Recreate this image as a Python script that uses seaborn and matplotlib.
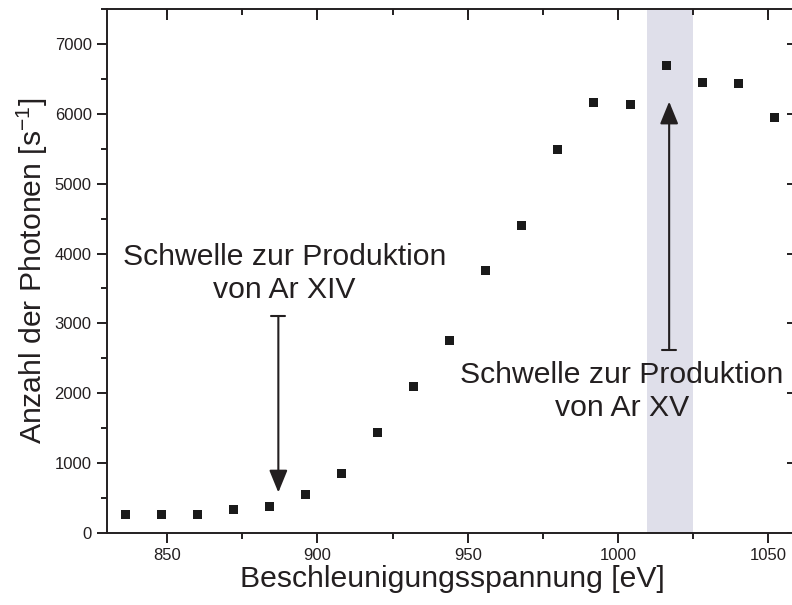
import matplotlib
matplotlib.use('Agg')
import matplotlib.pyplot as plt
from matplotlib.ticker import MultipleLocator
import seaborn as sns
import pandas as pd

# measured photon counts vs. acceleration voltage
voltage = [836, 848, 860, 872, 884, 896, 908, 920, 932, 944,
           956, 968, 980, 992, 1004, 1016, 1028, 1040, 1052]
counts = [258, 262, 268, 330, 375, 545, 850, 1440, 2100, 2750,
          3760, 4400, 5490, 6155, 6140, 6690, 6450, 6440, 5950]

# highlighted region and thresholds
band = (1009.5, 1025.0)
thr_xiv = {'x': 887, 'y_from': 3100, 'y_to': 580}
thr_xv = {'x': 1017, 'y_from': 2620, 'y_to': 6175}

ink = '#231f20'

sns.set_style('ticks')
plt.rcParams['font.family'] = ['Liberation Sans', 'DejaVu Sans']

df = pd.DataFrame({'voltage': voltage, 'counts': counts})

fig = plt.figure(figsize=(7.92, 6.05), dpi=100)
ax = fig.add_axes([0.1351, 0.119, 0.873, 0.8661])

ax.axvspan(band[0], band[1], color='#dfdfea', lw=0, zorder=0)

sns.scatterplot(data=df, x='voltage', y='counts', marker='s', s=42,
                color='#1a1a1a', edgecolor='none', ax=ax, zorder=3)

# threshold arrows with flat cap at the tail
for thr in (thr_xiv, thr_xv):
    ax.annotate('', xy=(thr['x'], thr['y_to']), xytext=(thr['x'], thr['y_from']),
                arrowprops=dict(arrowstyle='-|>,head_length=1.37,head_width=0.56',
                                mutation_scale=10, color=ink, lw=1.5,
                                shrinkA=0, shrinkB=0), zorder=4)
    ax.plot([thr['x'] - 2.3, thr['x'] + 2.3], [thr['y_from']] * 2,
            color=ink, lw=1.5, zorder=4)

ax.text(889, 3715, 'Schwelle zur Produktion\nvon Ar XIV', ha='center',
        va='center', fontsize=21.7, color=ink, linespacing=1.19)
ax.text(1001.3, 2025, 'Schwelle zur Produktion\nvon Ar XV', ha='center',
        va='center', fontsize=21.7, color=ink, linespacing=1.19)

xlim = (830, 1060)
ylim = (0, 7500)
ax.set_xlim(xlim)
ax.set_ylim(ylim)
ax.xaxis.set_major_locator(MultipleLocator(50))
ax.xaxis.set_minor_locator(MultipleLocator(25))
ax.yaxis.set_major_locator(MultipleLocator(1000))
ax.yaxis.set_minor_locator(MultipleLocator(500))

ax.set_xlabel('Beschleunigungsspannung [eV]', fontsize=21.7, color=ink, labelpad=1)
ax.set_ylabel('Anzahl der Photonen [s$^{\\mathregular{-1}}$]', fontsize=21.7,
              color=ink, labelpad=3)

for side in ['top', 'right', 'left', 'bottom']:
    ax.spines[side].set_visible(True)
    ax.spines[side].set_linewidth(1.4)
    ax.spines[side].set_color(ink)

ax.tick_params(axis='both', which='major', length=7, width=1.4, color=ink,
               labelsize=12, labelcolor=ink, pad=4, direction='out',
               top=False, right=False)
ax.tick_params(axis='both', which='minor', length=4, width=1.4, color=ink,
               direction='out', top=False, right=False)

# mirrored inward ticks on top and right, as short lines in axes fractions
ax_h = ax.get_position().height * fig.get_figheight() * 72
ax_w = ax.get_position().width * fig.get_figwidth() * 72
for loc, size in ((ax.xaxis.get_major_locator(), 8), (ax.xaxis.get_minor_locator(), 4)):
    for v in loc.tick_values(*xlim):
        if xlim[0] <= v <= xlim[1]:
            ax.axvline(v, ymin=1 - size / ax_h, ymax=1, color=ink, lw=1.4,
                       solid_capstyle='butt', zorder=5)
for loc, size in ((ax.yaxis.get_major_locator(), 8), (ax.yaxis.get_minor_locator(), 4)):
    for v in loc.tick_values(*ylim):
        if ylim[0] <= v <= ylim[1]:
            ax.axhline(v, xmin=1 - size / ax_w, xmax=1, color=ink, lw=1.4,
                       solid_capstyle='butt', zorder=5)

fig.savefig('out.png', dpi=100)
